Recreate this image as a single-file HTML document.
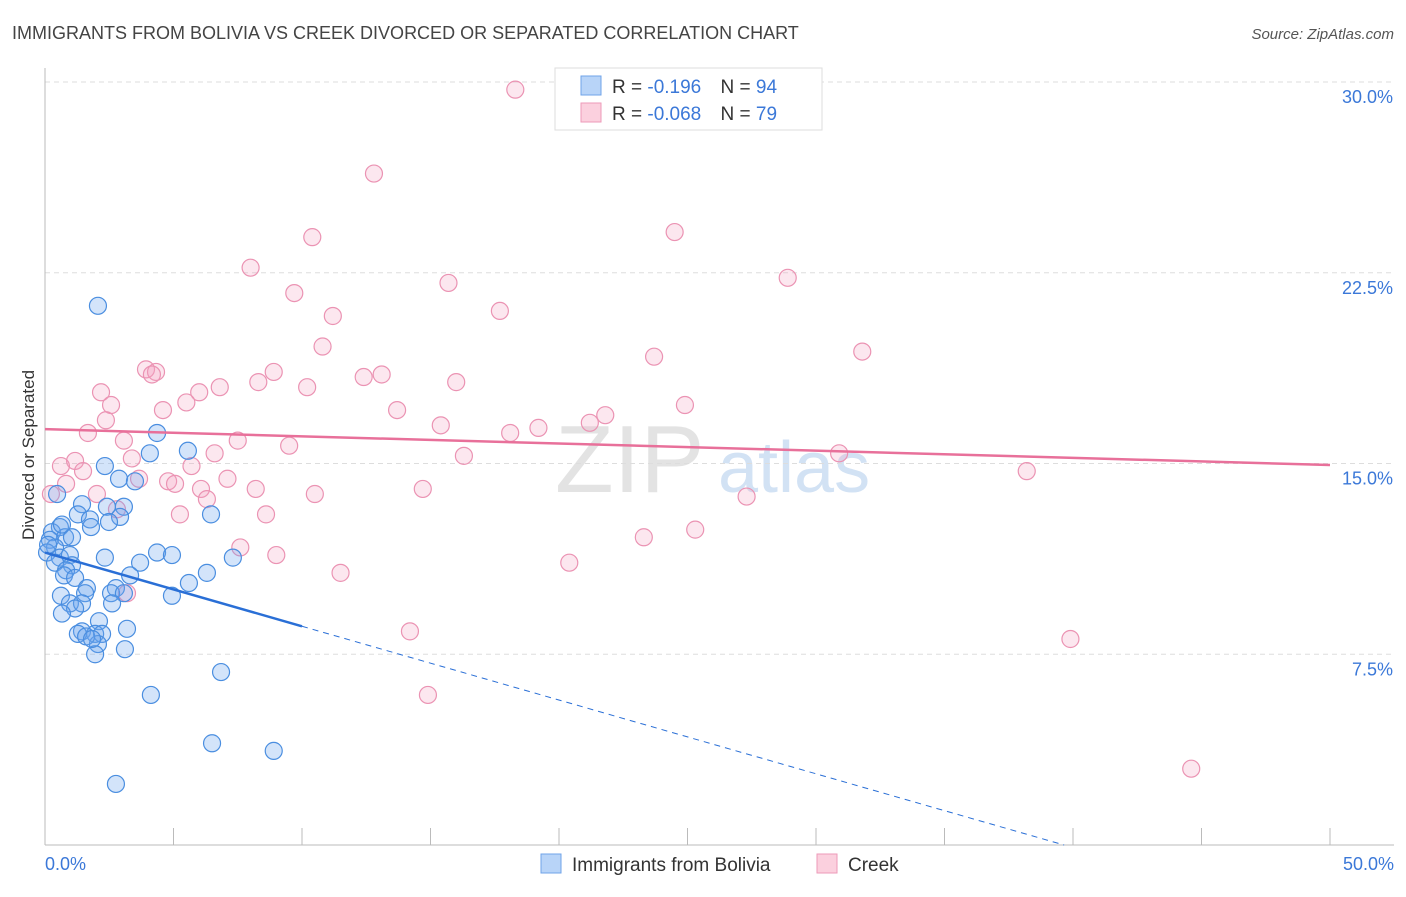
<!DOCTYPE html>
<html><head><meta charset="utf-8"><style>
body{margin:0;background:#fff;font-family:"Liberation Sans",sans-serif;}
svg text{font-family:"Liberation Sans",sans-serif;}
</style></head><body>
<svg id="chart" width="1406" height="892" viewBox="0 0 1406 892" xmlns="http://www.w3.org/2000/svg">
<text x="12" y="39" font-size="18" fill="#444">IMMIGRANTS FROM BOLIVIA VS CREEK DIVORCED OR SEPARATED CORRELATION CHART</text>
<text x="1394" y="39" font-size="15" fill="#555" text-anchor="end" font-style="italic">Source: ZipAtlas.com</text>
<text x="555" y="492" font-size="96" fill="#ddd" font-family="Liberation Serif" opacity="0.8">ZIP</text>
<text x="718" y="492" font-size="72" fill="#c8dbf2" opacity="0.8">atlas</text>
<g id="grid"></g>
<g id="axes"></g>
<g id="marks"></g>
<text transform="translate(34,455) rotate(-90)" font-size="17" fill="#333" text-anchor="middle">Divorced or Separated</text>
<g>
<rect x="555" y="68" width="267" height="62" fill="#fff" stroke="#ddd"/>
<rect x="581" y="76" width="20" height="19" fill="#b8d4f8" stroke="#6fa3e8"/>
<rect x="581" y="103" width="20" height="19" fill="#fbd0de" stroke="#ee9ab8"/>
<text x="612" y="93" font-size="19" fill="#333">R = <tspan fill="#3b78d8">-0.196</tspan>  <tspan dx="14">N = </tspan><tspan fill="#3b78d8">94</tspan></text>
<text x="612" y="120" font-size="19" fill="#333">R = <tspan fill="#3b78d8">-0.068</tspan>  <tspan dx="14">N = </tspan><tspan fill="#3b78d8">79</tspan></text>
</g>
<g>
<rect x="541" y="854" width="20" height="19" fill="#b8d4f8" stroke="#6fa3e8"/>
<text x="572" y="871" font-size="19" fill="#333">Immigrants from Bolivia</text>
<rect x="817" y="854" width="20" height="19" fill="#fbd0de" stroke="#ee9ab8"/>
<text x="848" y="871" font-size="19" fill="#333">Creek</text>
</g>
</svg>
<script>
const xTicks=[0,5,10,15,20,25,30,35,40,45,50];
const yTicks=[7.5,15,22.5,30];
const yTickLabels=["7.5%","15.0%","22.5%","30.0%"];
const boliviaX=[2.06,4.36,5.56,4.08,2.33,2.88,3.5,0.47,1.44,3.07,2.41,1.28,2.92,6.46,1.75,2.49,1.79,0.58,0.27,0.78,1.05,0.19,0.39,0.08,4.36,4.94,7.31,2.33,0.58,0.97,3.7,0.39,1.05,0.82,0.74,3.31,6.3,1.17,5.6,2.76,1.63,1.56,2.57,3.07,0.62,4.94,0.97,1.44,2.61,1.17,0.66,2.1,3.19,1.44,1.95,2.22,1.28,2.06,3.11,1.95,6.85,4.12,6.5,8.9,2.76,0.12,0.66,1.6,1.83];
const boliviaY=[21.2,16.2,15.5,15.4,14.9,14.4,14.3,13.8,13.4,13.3,13.3,13.0,12.9,13.0,12.8,12.7,12.5,12.5,12.3,12.1,12.1,12.0,11.7,11.5,11.5,11.4,11.3,11.3,11.3,11.4,11.1,11.1,11.0,10.8,10.6,10.6,10.7,10.5,10.3,10.1,10.1,9.9,9.9,9.9,9.8,9.8,9.5,9.5,9.5,9.3,9.1,8.8,8.5,8.4,8.3,8.3,8.3,7.9,7.7,7.5,6.8,5.9,4.0,3.7,2.4,11.8,12.6,8.2,8.1];
const creekX=[18.3,12.8,10.4,24.5,8.0,15.7,28.9,9.7,11.2,17.7,10.8,31.8,23.7,3.93,4.32,4.16,8.9,12.4,13.1,8.3,16.0,10.2,6.8,6.0,2.18,5.5,2.57,24.9,13.7,4.59,21.8,2.37,21.2,15.4,19.2,18.1,1.67,7.5,3.07,9.5,6.6,16.3,30.9,3.38,1.17,0.62,5.7,1.48,38.2,3.66,0.82,4.79,7.1,5.06,6.07,8.2,14.7,2.02,10.5,0.23,6.3,27.3,2.8,5.25,8.6,25.3,23.3,7.6,9.0,20.4,11.5,3.19,14.2,39.9,14.9,44.6];
const creekY=[29.7,26.4,23.9,24.1,22.7,22.1,22.3,21.7,20.8,21.0,19.6,19.4,19.2,18.7,18.6,18.5,18.6,18.4,18.5,18.2,18.2,18.0,18.0,17.8,17.8,17.4,17.3,17.3,17.1,17.1,16.9,16.7,16.6,16.5,16.4,16.2,16.2,15.9,15.9,15.7,15.4,15.3,15.4,15.2,15.1,14.9,14.9,14.7,14.7,14.4,14.2,14.3,14.4,14.2,14.0,14.0,14.0,13.8,13.8,13.8,13.6,13.7,13.2,13.0,13.0,12.4,12.1,11.7,11.4,11.1,10.7,9.9,8.4,8.1,5.9,3.0];
const boliviaTrend=[11.5,-0.29];
const creekTrend=[16.35,-0.0282];
const NS="http://www.w3.org/2000/svg";
const X0=45,X1=1330,Y0=845,Y1=82;
function sx(v){return X0+(v/50)*(X1-X0);}
function sy(v){return Y0-(v/30)*(Y0-Y1);}
function mk(tag,attrs,parent){const e=document.createElementNS(NS,tag);for(const k in attrs)e.setAttribute(k,attrs[k]);parent.appendChild(e);return e;}
const grid=document.getElementById('grid'),axes=document.getElementById('axes'),marks=document.getElementById('marks');
yTicks.forEach((t,i)=>{
 const l=mk('line',{x1:X0,x2:1394,y1:sy(t),y2:sy(t),stroke:'#ddd','stroke-dasharray':'5,4'},grid);
 
 
 const tx=mk('text',{x:1393,y:sy(t)+21,'font-size':18,fill:'#3b78d8','text-anchor':'end'},axes);
 tx.textContent=yTickLabels[i];
 
 
});
const ax=mk('line',{x1:X0,x2:X0,y1:68,y2:Y0,stroke:'#bbb'},axes);


const bx=mk('line',{x1:X0,x2:1394,y1:Y0,y2:Y0,stroke:'#bbb'},axes);


xTicks.forEach(t=>{
 const l=mk('line',{x1:sx(t),x2:sx(t),y1:828,y2:Y0,stroke:'#bbb'},axes);
 
 
});
const xl=mk('text',{x:45,y:870,'font-size':18,fill:'#3b78d8'},axes);xl.textContent='0.0%';


const xr=mk('text',{x:1394,y:870,'font-size':18,fill:'#3b78d8','text-anchor':'end'},axes);xr.textContent='50.0%';


creekX.forEach((x,i)=>{
 const c=mk('circle',{cx:sx(x),cy:sy(creekY[i]),r:8.5,fill:'rgba(244,160,190,0.25)',stroke:'#eb93b3','stroke-width':1.2},marks);
 
 
});
boliviaX.forEach((x,i)=>{
 const c=mk('circle',{cx:sx(x),cy:sy(boliviaY[i]),r:8.5,fill:'rgba(110,165,240,0.3)',stroke:'#4a8ee0','stroke-width':1.2},marks);
 
 
});
const ct=mk('line',{x1:sx(0),y1:sy(creekTrend[0]),x2:sx(50),y2:sy(creekTrend[0]+creekTrend[1]*50),stroke:'#e8709a','stroke-width':2.5},marks);


const bEnd=10, bZero=-boliviaTrend[0]/boliviaTrend[1];
const bt=mk('line',{x1:sx(0),y1:sy(boliviaTrend[0]),x2:sx(bEnd),y2:sy(boliviaTrend[0]+boliviaTrend[1]*bEnd),stroke:'#2a6fd6','stroke-width':2.5},marks);


const bd=mk('line',{x1:sx(bEnd),y1:sy(boliviaTrend[0]+boliviaTrend[1]*bEnd),x2:sx(bZero),y2:sy(0),stroke:'#2a6fd6','stroke-width':1,'stroke-dasharray':'6,5'},marks);


</script>
</body></html>
